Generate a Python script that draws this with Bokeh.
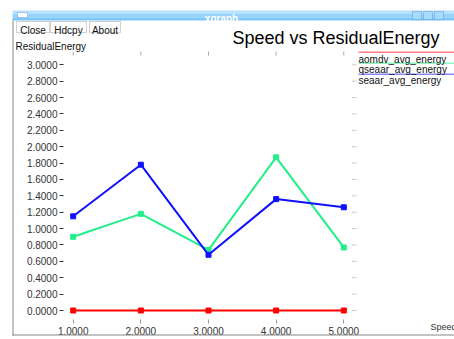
from bokeh.plotting import figure
from bokeh.models import (Range1d, LinearAxis, FixedTicker, PrintfTickFormatter,
                          Label, BoxAnnotation, ColumnDataSource)
from bokeh.embed import file_html
from bokeh.resources import INLINE

# ---- data ----
speed = [1, 2, 3, 4, 5]
aomdv_avg_energy = [0.0, 0.0, 0.0, 0.0, 0.0]
qseaar_avg_energy = [0.90, 1.18, 0.74, 1.87, 0.77]
seaar_avg_energy = [1.15, 1.78, 0.68, 1.36, 1.26]
series_names = ["aomdv_avg_energy", "qseaar_avg_energy", "seaar_avg_energy"]
series_colors = ["#ff0000", "#22ee88", "#1010ff"]
x_ticks = [1, 2, 3, 4, 5]
y_ticks = [0.0, 0.2, 0.4, 0.6, 0.8, 1.0, 1.2, 1.4, 1.6, 1.8, 2.0, 2.2, 2.4, 2.6, 2.8, 3.0]
title_text = "Speed vs ResidualEnergy"
x_label = "Speed"
y_label = "ResidualEnergy"
window_title = "xgraph"
buttons = ["Close", "Hdcpy", "About"]

FONT = "Liberation Sans"
W, H = 454, 339
# pixel scale of the data area (picture pixels)
SX, SY = 67.65, 81.9      # pixels per data unit
PX1, PY0 = 72.7, 310.0    # picture pixel of x=1 and of y=0

def dx(px):
    return 1 + (px - PX1) / SX

def dy(py):
    return (PY0 - py) / SY

p = figure(width=W, height=H, output_backend="svg", toolbar_location=None,
           x_range=Range1d(dx(0), dx(W)), y_range=Range1d(dy(H), dy(0)),
           x_axis_location=None, y_axis_location=None,
           min_border=0, min_border_left=0, min_border_right=0,
           min_border_top=0, min_border_bottom=0)
p.title.visible = False
p.grid.visible = False
p.outline_line_color = None
p.background_fill_color = "white"
p.border_fill_color = "white"

def style_axis(ax, color="#333333"):
    ax.axis_line_color = None
    ax.minor_tick_line_color = None
    ax.major_tick_in = 0
    ax.major_tick_out = 4
    ax.major_tick_line_color = color
    ax.major_label_text_font = FONT
    ax.major_label_text_font_size = "10px"
    ax.major_label_text_color = "#333333"
    ax.major_label_standoff = 2

left = LinearAxis(ticker=FixedTicker(ticks=y_ticks), formatter=PrintfTickFormatter(format="%.4f"),
                  fixed_location=dx(63))
style_axis(left)
p.add_layout(left, "left")

bottom = LinearAxis(ticker=FixedTicker(ticks=x_ticks), formatter=PrintfTickFormatter(format="%.4f"),
                    fixed_location=dy(319))
style_axis(bottom, color="#999999")
bottom.major_label_standoff = 3
p.add_layout(bottom, "below")

# grid tick marks on the top and right edges (xgraph style)
p.segment(x0=x_ticks, x1=x_ticks, y0=[dy(51)] * len(x_ticks), y1=[dy(55)] * len(x_ticks),
          line_color="#aaaaaa", line_width=1)
p.segment(x0=[dx(352)] * len(y_ticks), x1=[dx(356)] * len(y_ticks), y0=y_ticks, y1=y_ticks,
          line_color="#aaaaaa", line_width=1, line_dash="2 1")

# ---- series ----
for name, vals, col in zip(series_names,
                           [aomdv_avg_energy, qseaar_avg_energy, seaar_avg_energy],
                           series_colors):
    src = ColumnDataSource(dict(x=speed, y=vals))
    p.line("x", "y", source=src, line_color=col, line_width=2)
    p.scatter("x", "y", source=src, marker="square", size=5, fill_color=col, line_color=col)

# ---- decorations (positions in picture pixels, converted to data) ----
def box(x0, y0, x1, y1, fill=None, line=None, lw=1, alpha=1.0):
    kw = dict(left=dx(x0), right=dx(x1), top=dy(y0), bottom=dy(y1))
    if fill:
        kw.update(fill_color=fill, fill_alpha=alpha)
    else:
        kw.update(fill_alpha=0)
    if line:
        kw.update(line_color=line, line_width=lw)
    else:
        kw.update(line_alpha=0)
    p.add_layout(BoxAnnotation(**kw))

def label(x, y, text, size="10px", color="#111111", align="left", style="normal"):
    p.add_layout(Label(x=dx(x), y=dy(y), text=text, text_font=FONT,
                       text_font_size=size, text_color=color, text_align=align,
                       text_baseline="alphabetic", text_font_style=style))

# window chrome
box(12, 10, 454, 13, fill="#b6e2ff")
box(12, 13, 454, 17, fill="#95d3ff")
box(12, 17, 454, 20, fill="#7cc6fb")
box(17, 12, 27, 17, fill="white", line="#3060d0")
for bx in (412, 423, 434):
    box(bx, 11, bx + 9, 19, fill="#a8dcff", line="#2e6fc8")
box(12, 20, 13, 335, fill="#888888")
box(12, 334, 454, 335, fill="#888888")
for (x0, x1) in [(16, 49), (50, 86), (89, 120)]:
    box(x0, 21, x1, 32, fill="white", line="#666666")
for ly, col in zip([51, 62, 73], series_colors):
    box(358, ly, 454, ly + 1.5, fill=col, alpha=0.5)

# texts
label(221, 18, window_title, size="10px", color="#ffffff", align="center", style="bold")
for (x0, x1), t in zip([(16, 49), (50, 86), (89, 120)], buttons):
    label((x0 + x1) / 2, 30, t, size="10px", align="center")
label(232, 37, title_text, size="18px", color="#000000")
label(15, 45.5, y_label, size="10px", color="#111111")
label(430, 326, x_label, size="9px", color="#333333")
for ty, name in zip([58.5, 69, 79.5], series_names):
    label(358, ty, name, size="10px", color="#111111")

open("out.html", "w").write(file_html(p, INLINE))
